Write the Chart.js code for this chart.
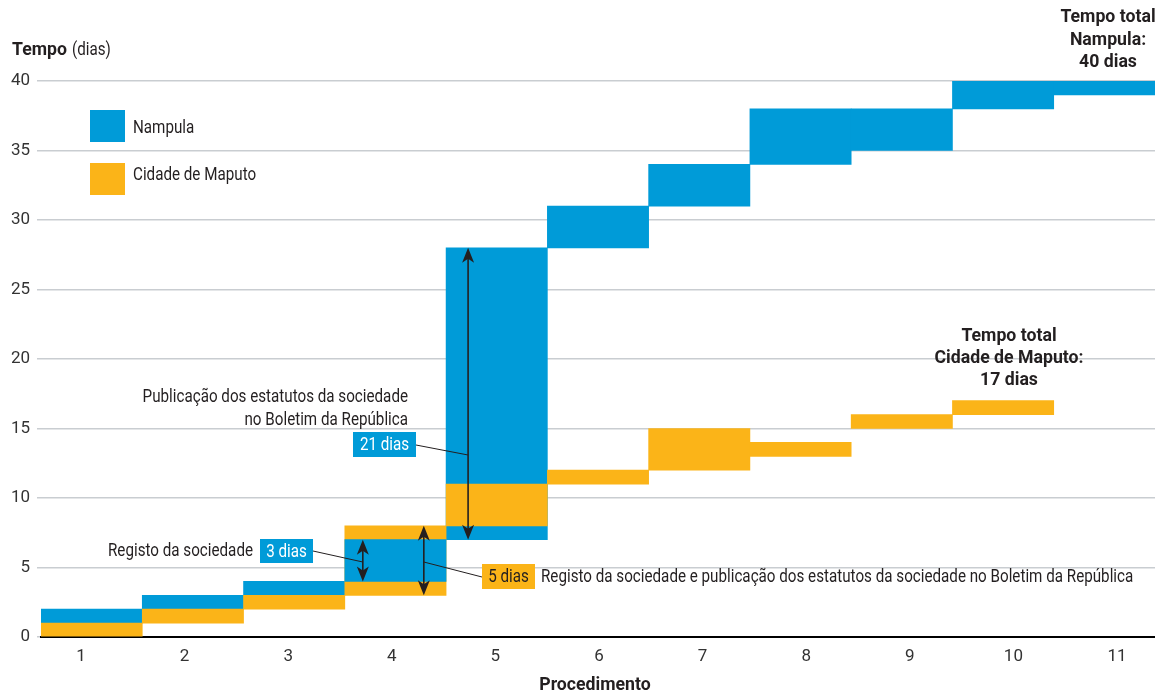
<!DOCTYPE html>
<html>
<head>
<meta charset="utf-8">
<script src="https://cdn.jsdelivr.net/npm/chart.js@4/dist/chart.umd.min.js"></script>
<style>
  html, body { margin: 0; padding: 0; background: #fff; }
  #wrap { width: 1155px; height: 694px; position: relative; }
</style>
</head>
<body>
<div id="wrap"><canvas id="chart"></canvas></div>
<script>
const procedures = ["1", "2", "3", "4", "5", "6", "7", "8", "9", "10", "11"];
// each step as [start, end] in days
const nampula = [[1, 2], [2, 3], [3, 4], [4, 7], [7, 28], [28, 31], [31, 34], [34, 38], [35, 38], [38, 40], [39, 40]];
const maputo = [[0, 1], [1, 2], [2, 3], [3, 8], [8, 11], [11, 12], [12, 15], [13, 14], [15, 16], [16, 17], null];
const yTicks = [0, 5, 10, 15, 20, 25, 30, 35, 40];

const BLUE = "#009bd8";
const ORANGE = "#fbb418";
const INK = "#231f20";
const FONT = "Roboto, 'DejaVu Sans', sans-serif";

// step 4 of Nampula sits on top of the orange one, the rest sits behind
const FRONT_STEP = 3;
const nampulaBack = nampula.map((v, i) => (i === FRONT_STEP ? null : v));
const nampulaFront = nampula.map((v, i) => (i === FRONT_STEP ? v : null));

const barStyle = {
  barPercentage: 1,
  categoryPercentage: 1,
  grouped: false,
  borderWidth: 0,
  xAxisID: "x",
};

// the source uses a condensed face, so squeeze text horizontally
const squeeze = { regular: 1, bold: 1 };
const setFont = (ctx, bold, size) => {
  ctx.font = `${bold ? "bold " : ""}${size}px ${FONT}`;
};

const text = (ctx, str, x, y, { align = "left", bold = false, size = 18, color = INK } = {}) => {
  setFont(ctx, bold, size);
  ctx.fillStyle = color;
  ctx.textAlign = align;
  ctx.textBaseline = "middle";
  ctx.save();
  ctx.translate(x, y);
  ctx.scale(bold ? squeeze.bold : squeeze.regular, 1);
  ctx.fillText(str, 0, 0);
  ctx.restore();
};

const arrowHead = (ctx, x, y, dir) => {
  ctx.beginPath();
  ctx.moveTo(x, y);
  ctx.lineTo(x - 6, y + dir * 15);
  ctx.lineTo(x, y + dir * 11);
  ctx.lineTo(x + 6, y + dir * 15);
  ctx.closePath();
  ctx.fill();
};

const doubleArrow = (ctx, x, yTop, yBottom) => {
  ctx.strokeStyle = INK;
  ctx.fillStyle = INK;
  ctx.lineWidth = 1.6;
  ctx.beginPath();
  ctx.moveTo(x, yTop + 8);
  ctx.lineTo(x, yBottom - 8);
  ctx.stroke();
  arrowHead(ctx, x, yTop, 1);
  arrowHead(ctx, x, yBottom, -1);
};

const leader = (ctx, x1, y1, x2, y2) => {
  ctx.strokeStyle = INK;
  ctx.lineWidth = 1;
  ctx.beginPath();
  ctx.moveTo(x1, y1);
  ctx.lineTo(x2, y2);
  ctx.stroke();
};

const tag = (ctx, str, x, y, w, h, bg, color) => {
  ctx.fillStyle = bg;
  ctx.fillRect(x, y, w, h);
  text(ctx, str, x + w / 2, y + h / 2 + 1, { align: "center", color });
};

const annotations = {
  id: "annotations",
  afterDatasetsDraw(chart) {
    const { ctx, scales } = chart;
    const x = scales.x;
    const y = scales.y;
    const step = (x.right - x.left) / procedures.length;
    const left = (i) => x.left + i * step;
    ctx.save();

    setFont(ctx, false, 18);
    squeeze.regular = 145 / ctx.measureText("Registo da sociedade").width;
    setFont(ctx, true, 18);
    squeeze.bold = 149 / ctx.measureText("Cidade de Maputo:").width;

    // legend
    ctx.fillStyle = BLUE;
    ctx.fillRect(90, 110, 35, 32);
    ctx.fillStyle = ORANGE;
    ctx.fillRect(90, 163, 35, 32);
    text(ctx, "Nampula", 133, 128);
    text(ctx, "Cidade de Maputo", 133, 175);

    // axis titles
    setFont(ctx, true, 18);
    const tw = ctx.measureText("Tempo").width * squeeze.bold;
    text(ctx, "Tempo", 12, 50, { bold: true });
    text(ctx, "(dias)", 12 + tw + 5, 50);
    text(ctx, "Procedimento", 595, 685, { align: "center", bold: true });

    // arrows
    const a4 = left(3) + 18;
    const b4 = left(3) + 79;
    const a5 = left(4) + 22;
    doubleArrow(ctx, a4, y.getPixelForValue(nampula[3][1]), y.getPixelForValue(nampula[3][0]));
    doubleArrow(ctx, b4, y.getPixelForValue(maputo[3][1]), y.getPixelForValue(maputo[3][0]));
    doubleArrow(ctx, a5, y.getPixelForValue(nampula[4][1]), y.getPixelForValue(nampula[4][0]));

    // callouts
    text(ctx, "Publicação dos estatutos da sociedade", 408, 397, { align: "right" });
    text(ctx, "no Boletim da República", 408, 420, { align: "right" });
    tag(ctx, "21 dias", 353, 432, 63, 25, BLUE, "#fff");
    leader(ctx, 416, 445, a5, 455);

    text(ctx, "Registo da sociedade", 253, 551, { align: "right" });
    tag(ctx, "3 dias", 260, 539, 53, 24, BLUE, "#fff");
    leader(ctx, 313, 551, a4, 562);

    leader(ctx, b4, 562, 482, 577);
    tag(ctx, "5 dias", 482, 564, 53, 25, ORANGE, INK);
    text(ctx, "Registo da sociedade e publicação dos estatutos da sociedade no Boletim da República", 541, 577);

    // totals
    text(ctx, "Tempo total", 1108, 17, { align: "center", bold: true });
    text(ctx, "Nampula:", 1108, 40, { align: "center", bold: true });
    text(ctx, "40 dias", 1108, 62, { align: "center", bold: true });
    text(ctx, "Tempo total", 1009, 336, { align: "center", bold: true });
    text(ctx, "Cidade de Maputo:", 1009, 358, { align: "center", bold: true });
    text(ctx, "17 dias", 1009, 380, { align: "center", bold: true });

    ctx.restore();
  },
};

new Chart(document.getElementById("chart"), {
  type: "bar",
  data: {
    labels: procedures,
    datasets: [
      { ...barStyle, label: "Nampula", data: nampulaBack, backgroundColor: BLUE, order: 3 },
      { ...barStyle, label: "Cidade de Maputo", data: maputo, backgroundColor: ORANGE, order: 2 },
      { ...barStyle, label: "Nampula (4)", data: nampulaFront, backgroundColor: BLUE, order: 1 },
    ],
  },
  options: {
    responsive: true,
    maintainAspectRatio: false,
    animation: false,
    layout: { padding: { top: 81, right: 0, bottom: 0, left: 0 } },
    plugins: { legend: { display: false }, tooltip: { enabled: false } },
    scales: {
      x: { type: "category", display: false },
      // separate axis only for the procedure numbers, spaced as in the source
      xl: {
        type: "linear",
        position: "bottom",
        offset: false,
        min: 0.614,
        max: 11.367,
        afterBuildTicks: (s) => { s.ticks = procedures.map((_, i) => ({ value: i + 1 })); },
        afterFit: (s) => { s.height = 57; },
        grid: { display: false, drawTicks: false, offset: false },
        border: { display: true, color: "#000", width: 2 },
        ticks: {
          padding: 10,
          color: "#333",
          font: { family: FONT, size: 17 },
          callback: (v) => procedures[v - 1],
        },
      },
      y: {
        min: 0,
        max: 40,
        afterBuildTicks: (s) => { s.ticks = yTicks.map((v) => ({ value: v })); },
        afterFit: (s) => { s.width = 41; },
        grid: { color: "#c9cdd1", lineWidth: 1.5, drawTicks: true, tickLength: 4 },
        border: { display: false },
        ticks: {
          padding: 7,
          color: "#333",
          font: { family: FONT, size: 17 },
        },
      },
    },
  },
  plugins: [annotations],
});
</script>
</body>
</html>
